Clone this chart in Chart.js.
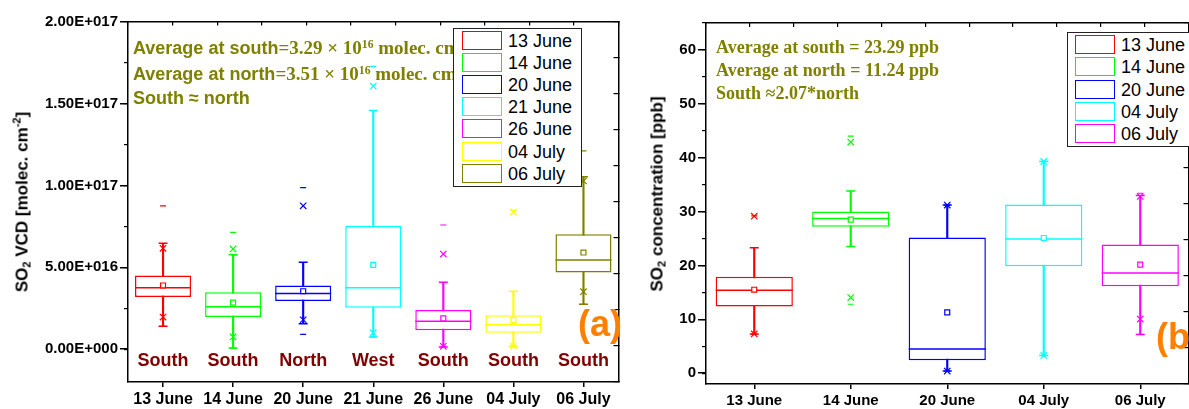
<!DOCTYPE html>
<html>
<head>
<meta charset="utf-8">
<script src="https://cdn.jsdelivr.net/npm/chart.js@4.4.1/dist/chart.umd.min.js"></script>
<style>
  html, body { margin: 0; padding: 0; background: #fff; }
  body { width: 1189px; height: 409px; overflow: hidden; position: relative; font-family: "Liberation Sans", Arial, sans-serif; }
  .panel { position: absolute; top: 0; height: 409px; }
  #vcd-panel { left: 0; width: 640px; }
  #ppb-panel { left: 640px; width: 570px; }
  .note { position: absolute; color: #808000; font-weight: bold; white-space: nowrap; line-height: 1; }
  .sans { font-family: "Liberation Sans", Arial, sans-serif; font-size: 18px; }
  .serif { font-family: "Liberation Serif", "Times New Roman", serif; font-size: 19px; }
  .serif.small { font-size: 18px; }
  .note sup { font-size: 0.62em; vertical-align: 0.55em; line-height: 0; }
  .ytitle { position: absolute; transform: translate(-50%, -50%) rotate(-90deg); white-space: nowrap; font-weight: bold; font-size: 17px; line-height: 1; color: #000; }
  .ytitle sub { font-size: 0.65em; vertical-align: -0.3em; line-height: 0; }
  .ytitle sup { font-size: 0.65em; vertical-align: 0.6em; line-height: 0; }
  .legend { position: absolute; background: #fff; border: 1px solid #222; z-index: 2; }
  .legend .item { position: absolute; left: 0; height: 20px; }
  .legend .sw { position: absolute; width: 38px; height: 17px; border: 1.5px solid; }
  .legend .lbl { position: absolute; font-size: 18px; line-height: 20px; color: #000; white-space: nowrap; }
  .tag { position: absolute; color: #ff8000; font-weight: bold; font-size: 36px; line-height: 1; }
</style>
</head>
<body>
<div class="panel" id="vcd-panel"><canvas id="vcd-chart" width="640" height="409"></canvas></div>
<div class="panel" id="ppb-panel"><canvas id="ppb-chart" width="570" height="409"></canvas></div>

<div class="ytitle" style="left:22px; top:202px;">SO<sub>2</sub> VCD [molec. cm<sup>-2</sup>]</div>
<div class="ytitle" style="left:657px; top:194px;">SO<sub>2</sub> concentration [ppb]</div>

<div class="note" style="left:133px; top:38px;"><span class="sans">Average at south</span><span class="serif">=3.29 × 10<sup>16</sup> molec. cm<sup>-2</sup></span></div>
<div class="note" style="left:133px; top:64px;"><span class="sans">Average at north</span><span class="serif">=3.51 × 10<sup>16</sup> molec. cm<sup>-2</sup></span></div>
<div class="note" style="left:133px; top:89px;"><span class="sans">South ≈ north</span></div>

<div class="note" style="left:716px; top:38px;"><span class="serif small">Average at south = 23.29 ppb</span></div>
<div class="note" style="left:716px; top:61px;"><span class="serif small">Average at north = 11.24 ppb</span></div>
<div class="note" style="left:716px; top:84px;"><span class="serif small">South ≈2.07*north</span></div>

<div class="legend" id="vcd-legend" style="left:453px; top:28px; width:127px; height:157px;"></div>
<div class="legend" id="ppb-legend" style="left:1067px; top:32px; width:140px; height:113px;"></div>

<div class="tag" style="left:578px; top:306px;">(a)</div>
<div class="tag" style="left:1156px; top:319px;">(b)</div>

<script>
// ---- Left panel: SO2 VCD, values in units of 1e16 molec. cm-2 ----
const vcdDays   = ['13 June', '14 June', '20 June', '21 June', '26 June', '04 July', '06 July'];
const vcdSites  = ['South', 'South', 'North', 'West', 'South', 'South', 'South'];
const vcdColors = ['#ff0000', '#00ff00', '#0000ff', '#00ffff', '#ff00ff', '#ffff00', '#808000'];
const vcdQ1     = [3.18, 1.96, 2.94, 2.53, 1.16, 1.01, 4.68];
const vcdQ3     = [4.50, 3.48, 3.89, 7.52, 2.39, 2.07, 7.01];
const vcdMedian = [3.75, 2.59, 3.40, 3.75, 1.70, 1.50, 5.45];
const vcdMean   = [3.89, 2.84, 3.54, 5.15, 1.88, 1.78, 5.90];
const vcdLow    = [1.40, 0.08, 1.56, 0.75, 0.14, 0.18, 2.74];
const vcdHigh   = [6.46, 5.76, 5.31, 14.57, 4.09, 3.54, 10.53];
const vcdP01    = [1.96, 0.75, 1.80, 1.01, 0.18, 0.18, 3.51];
const vcdP99    = [6.16, 6.12, 8.75, 16.05, 5.81, 8.37, 10.27];
const vcdMin    = [1.40, 0.05, 0.91, 0.75, 0.14, 0.18, 2.74];
const vcdMax    = [8.75, 7.13, 9.86, 17.26, 7.58, 8.45, 12.10];

// ---- Right panel: surface SO2 concentration, ppb ----
const ppbDays   = ['13 June', '14 June', '20 June', '04 July', '06 July'];
const ppbColors = ['#ff0000', '#00ff00', '#0000ff', '#00ffff', '#ff00ff'];
const ppbQ1     = [12.4, 27.2, 2.4, 19.85, 16.15];
const ppbQ3     = [17.9, 30.0, 25.2, 31.3, 23.9];
const ppbMedian = [15.4, 28.7, 4.5, 24.9, 18.6];
const ppbMean   = [15.5, 28.5, 11.3, 25.1, 20.15];
const ppbLow    = [7.3, 23.5, 0.4, 3.3, 7.2];
const ppbHigh   = [23.3, 33.8, 31.2, 39.3, 33.0];
const ppbP01    = [7.3, 14.05, 0.4, 3.3, 10.05];
const ppbP99    = [29.15, 42.9, 31.2, 39.3, 32.8];
const ppbMin    = [7.2, 12.8, 0.4, 3.3, 7.2];
const ppbMax    = [29.2, 44.0, 31.2, 39.3, 33.4];

const SANS = '"Liberation Sans", Arial, sans-serif';
const BOX_FRAC = 0.8;

// ---- Helpers ----
function sciLabel(v) {
  if (v === 0) return '0.00E+000';
  const r = v * 1e16;
  const e = Math.floor(Math.log10(r) + 1e-9);
  return (r / Math.pow(10, e)).toFixed(2) + 'E+' + String(e).padStart(3, '0');
}

function markers(data, colors, style, radius, order, width) {
  return {
    type: 'line', data, showLine: false, order,
    pointStyle: style, pointRadius: radius, pointHoverRadius: radius,
    pointBorderColor: colors, pointBackgroundColor: '#fff',
    pointBorderWidth: width || 1.2,
  };
}

function boxDatasets(s) {
  const halfBox = ctx => ctx.chart.chartArea ? ctx.chart.chartArea.width / s.colors.length * BOX_FRAC / 2 : 20;
  return [
    markers(s.mean, s.colors, 'rect', 3.5, 0),
    markers(s.p99, s.colors, 'crossRot', 4.5, 0),
    markers(s.p01, s.colors, 'crossRot', 4.5, 0),
    markers(s.max, s.colors, 'line', 3, 0),
    markers(s.min, s.colors, 'line', 3, 0),
    markers(s.high, s.colors, 'line', 4.5, 1, 1.5),
    markers(s.low, s.colors, 'line', 4.5, 1, 1.5),
    markers(s.median, s.colors, 'line', halfBox, 2, 1.5),
    {
      type: 'bar', order: 3, grouped: false,
      data: s.q1.map((v, i) => [v, s.q3[i]]),
      backgroundColor: '#fff', borderColor: s.colors, borderWidth: 1.5, borderSkipped: false,
      barPercentage: BOX_FRAC, categoryPercentage: 1,
    },
    {
      type: 'bar', order: 4, grouped: false,
      data: s.low.map((v, i) => [v, s.high[i]]),
      backgroundColor: s.colors, borderWidth: 0, barThickness: 1.5,
    },
  ];
}

// site names written inside the plot under each box
const siteLabels = {
  id: 'siteLabels',
  afterDatasetsDraw(chart, args, opts) {
    if (!opts.labels) return;
    const { ctx, chartArea, scales: { x } } = chart;
    ctx.save();
    ctx.font = 'bold 18px ' + SANS;
    ctx.fillStyle = '#800000';
    ctx.textAlign = 'center';
    ctx.textBaseline = 'middle';
    opts.labels.forEach((t, i) => ctx.fillText(t, x.getPixelForValue(i), chartArea.bottom - 21));
    ctx.restore();
  }
};

function frameAxis(pos, size, tick) {
  return {
    type: 'linear', position: pos, min: 0, max: 10,
    ticks: { display: false, stepSize: 1, includeBounds: false },
    grid: { drawOnChartArea: false, tickLength: tick, color: '#000', lineWidth: 1.2 },
    border: { color: '#000', width: 1.5 },
    afterFit: sc => { if (pos === 'top') sc.height = size; else sc.width = size; },
  };
}

function makeChart(canvas, s, ax) {
  return new Chart(canvas, {
    type: 'bar',
    data: { labels: s.days, datasets: boxDatasets(s) },
    options: {
      responsive: false,
      animation: false,
      events: [],
      layout: { padding: 0 },
      plugins: { legend: { display: false }, tooltip: { enabled: false }, siteLabels: { labels: s.sites } },
      scales: {
        x: {
          type: 'category', position: 'bottom', offset: true,
          grid: { offset: false, drawOnChartArea: false, tickLength: 5, color: '#000', lineWidth: 1.5 },
          border: { color: '#000', width: 1.5 },
          ticks: { color: '#000', font: { family: SANS, size: ax.xFont, weight: 'bold' }, padding: 3, maxRotation: 0, autoSkip: false },
          afterFit: sc => { sc.height = ax.bottom; },
        },
        xTop: frameAxis('top', ax.top, -4),
        y: {
          type: 'linear', position: 'left', min: ax.min, max: ax.max,
          ticks: { stepSize: ax.step, includeBounds: false, color: '#000', padding: 2,
                   font: { family: SANS, size: 15, weight: 'bold' }, callback: ax.fmt },
          grid: { drawOnChartArea: false, tickLength: 8, color: '#000', lineWidth: 1.5 },
          border: { color: '#000', width: 1.5 },
          afterFit: sc => { sc.width = ax.left; },
        },
        yMinor: {
          type: 'linear', position: 'left', weight: -1, min: ax.min, max: ax.max,
          ticks: { display: false, stepSize: ax.step / 2, includeBounds: false },
          grid: { drawOnChartArea: false, tickLength: 4, color: '#000', lineWidth: 1.2 },
          border: { display: false },
          afterFit: sc => { sc.width = 0; },
        },
        yR: frameAxis('right', ax.right, -5),
      }
    },
    plugins: [siteLabels]
  });
}

// ---- Legends ----
function buildLegend(el, days, colors, pitch, swLeft, txtLeft, top0) {
  days.forEach((d, i) => {
    const item = document.createElement('div');
    item.className = 'item';
    item.style.top = (top0 + i * pitch) + 'px';
    item.innerHTML = `<div class="sw" style="left:${swLeft}px; border-color:${colors[i]}"></div>` +
                     `<div class="lbl" style="left:${txtLeft}px">${d}</div>`;
    el.appendChild(item);
  });
}
buildLegend(document.getElementById('vcd-legend'), vcdDays, vcdColors, 22.1, 8, 54, 2);
buildLegend(document.getElementById('ppb-legend'), ppbDays, ppbColors, 22.3, 7, 53, 2);

// ---- Charts ----
makeChart(document.getElementById('vcd-chart'), {
  days: vcdDays, sites: vcdSites, colors: vcdColors,
  q1: vcdQ1, q3: vcdQ3, median: vcdMedian, mean: vcdMean,
  low: vcdLow, high: vcdHigh, p01: vcdP01, p99: vcdP99, min: vcdMin, max: vcdMax,
}, { left: 128, right: 18, top: 20, bottom: 27, min: -2, max: 20, step: 5, fmt: sciLabel, xFont: 16 });

makeChart(document.getElementById('ppb-chart'), {
  days: ppbDays, sites: null, colors: ppbColors,
  q1: ppbQ1, q3: ppbQ3, median: ppbMedian, mean: ppbMean,
  low: ppbLow, high: ppbHigh, p01: ppbP01, p99: ppbP99, min: ppbMin, max: ppbMax,
}, { left: 66, right: 10, top: 23, bottom: 25, min: -2, max: 65, step: 10, fmt: v => v, xFont: 15 });
</script>
</body>
</html>
